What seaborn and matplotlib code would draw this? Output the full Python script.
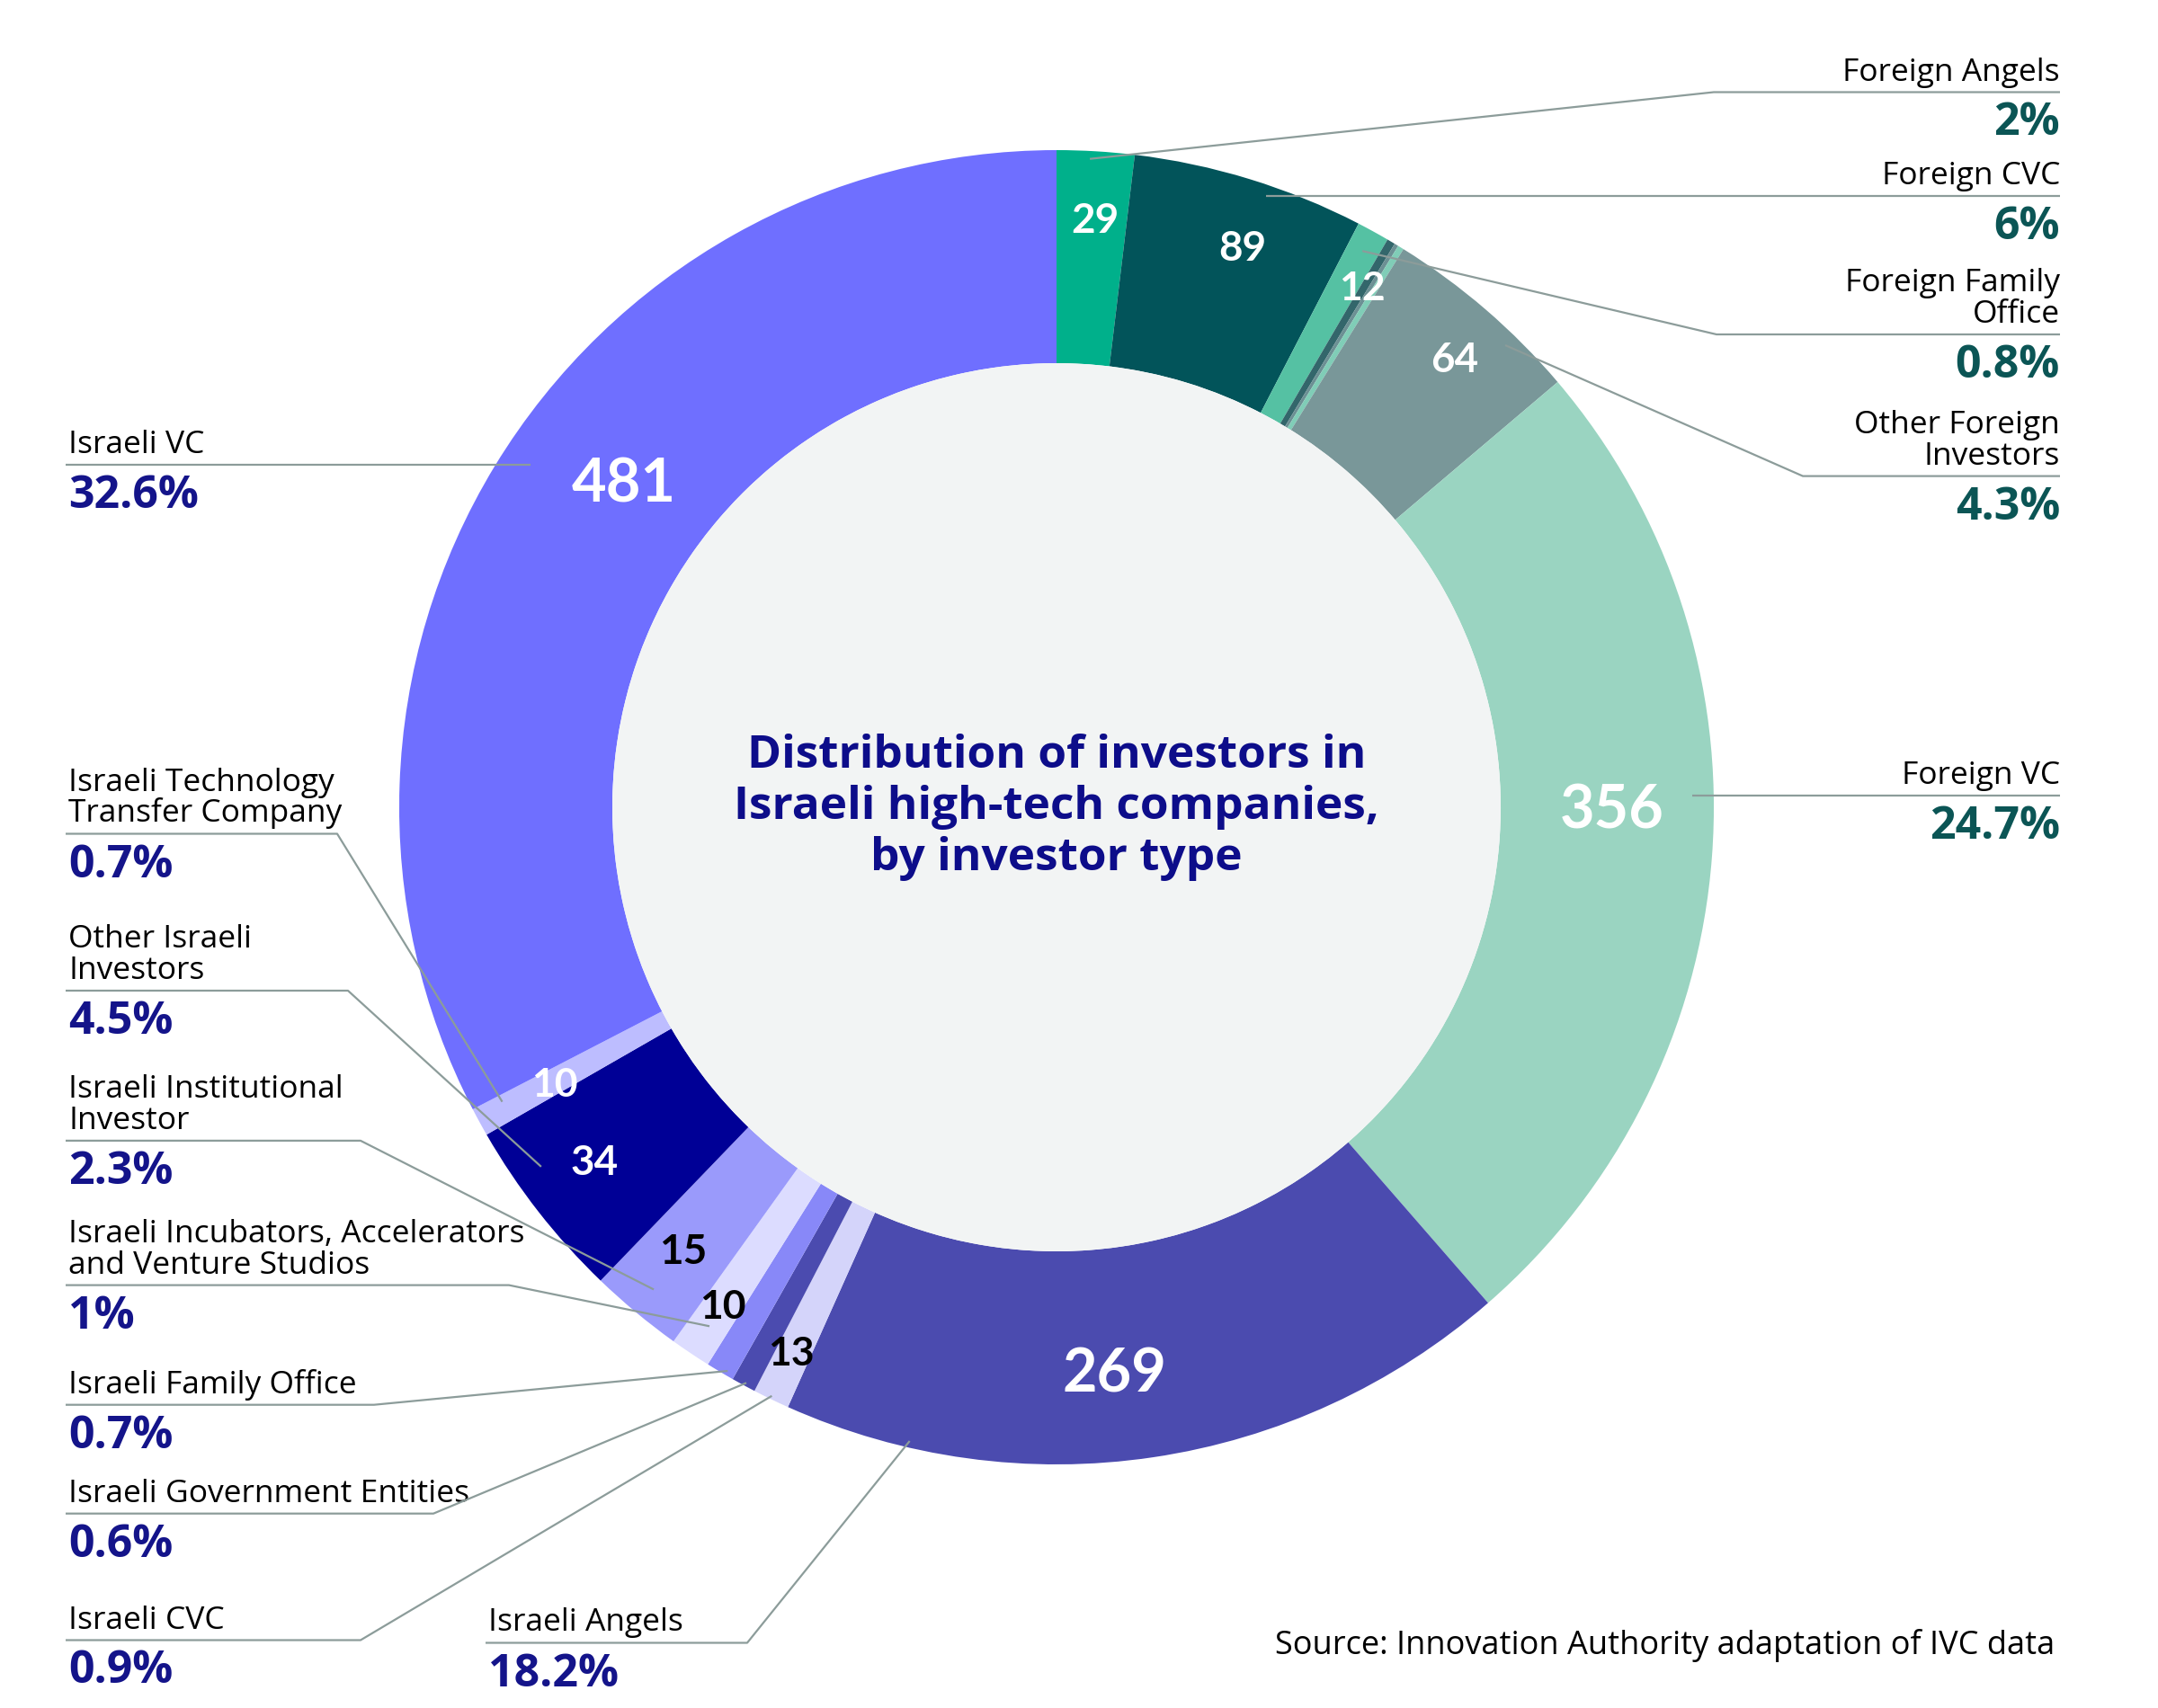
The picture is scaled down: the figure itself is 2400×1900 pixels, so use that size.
import numpy as np
import matplotlib.pyplot as plt
from matplotlib.patches import Circle
import seaborn as sns

#------------------------------------------------
# slices, clockwise from 12 o'clock (share in % of all investors)
categories=['Foreign Angels','Foreign CVC','Foreign Family Office','Foreign other a','Foreign other b','Foreign other c',
            'Other Foreign Investors','Foreign VC','Israeli Angels','Israeli CVC','Israeli Government Entities',
            'Israeli Family Office','Israeli Incubators, Accelerators and Venture Studios','Israeli Institutional Investor',
            'Other Israeli Investors','Israeli Technology Transfer Company','Israeli VC']
share=[1.9,5.7,0.8,0.2,0.1,0.15,4.95,24.8,18.1,0.9,0.6,0.7,1.0,2.3,4.5,0.7,32.6]
pct_text=['2%','6%','0.8%','','','','4.3%','24.7%','18.2%','0.9%','0.6%','0.7%','1%','2.3%','4.5%','0.7%','32.6%']
count_text=['29','89','12','','','','64','356','269','13','','','10','15','34','10','481']
name_text=['Foreign Angels','Foreign CVC','Foreign Family\nOffice','','','','Other Foreign\nInvestors','Foreign VC',
           'Israeli Angels','Israeli CVC','Israeli Government Entities','Israeli Family Office',
           'Israeli Incubators, Accelerators\nand Venture Studios','Israeli Institutional\nInvestor',
           'Other Israeli\nInvestors','Israeli Technology\nTransfer Company','Israeli VC']
title='Distribution of investors in\nIsraeli high-tech companies,\nby investor type'
source='Source: Innovation Authority adaptation of IVC data'

colors=['#00B08B','#02545A','#55C1A3','#33666B','#6C9094','#80CDB7','#799799','#9AD4C1',
        '#4B4BAF','#D4D4FA','#4B4BAF','#8888F8','#DCDCFF','#9A9AFB','#000096','#BDBDFF','#6F6FFF']

#------------------------------------------------
# layout (pixels of the 2400x1900 canvas)
cx, cy, R, r_in=1175, 898, 731, 494
c_line='#8C9C9A'
c_isr='#14148A'
c_for='#0B5555'
c_title='#0D0D8A'
f_txt=['Open Sans','DejaVu Sans']
f_num=['Lato','DejaVu Sans']

# number inside slice: idx -> (pos in slice, radius frac, size, color)
lab_in={0:(0.55,0.90,33,'white'), 1:(0.56,0.90,33,'white'), 2:(1.05,0.92,32,'white'), 6:(0.54,0.915,33,'white'),
        7:(0.45,0.845,48,'white'), 8:(0.54,0.86,48,'white'), 9:(0.58,0.92,32,'black'), 12:(0.52,0.91,32,'black'),
        13:(0.55,0.88,33,'black'), 14:(0.54,0.885,33,'white'), 15:(0.47,0.87,32,'white'), 16:(0.55,0.826,48,'white')}

# outer labels: idx -> (side, text x, underline y, knee x, anchor pos in slice, anchor radius frac)
lab_out={0:('r',2291,102.5,1906,0.43,0.988), 1:('r',2291,None,None,0.59,0.983),
         2:('r',2291,372,1909,0.5,0.966), 6:('r',2291,529.6,2005,0.69,0.98),
         7:('r',2291,None,None,0.44,0.968), 16:('l',76,None,None,0.515,0.955),
         15:('l',76,927.5,375,0.75,0.955), 14:('l',76,1102,387,0.69,0.956),
         13:('l',76,1268.9,401,0.51,0.956), 12:('l',76,1429.6,566,0.48,0.95),
         11:('l',76,1562.7,416,0.29,0.993), 10:('l',76,1683.7,482,0.44,0.995),
         9:('l',76,1824.5,401,0.52,0.995), 8:('l',543,1827.5,831,0.83,0.99)}

##########################################################
sns.set_theme(style='white')
plt.rcParams['font.family']=f_txt

tot=sum(share)
edges=np.concatenate([[0],np.cumsum(share)])/tot*360

def polar(i, t, rf):
    a=np.deg2rad(edges[i]+t*(edges[i+1]-edges[i]))
    return cx+rf*R*np.sin(a), cy-rf*R*np.cos(a)

fig=plt.figure(figsize=(24,19), dpi=100)
ax=fig.add_axes([0,0,1,1])

#donut
ax.pie(share, colors=colors, startangle=-90, counterclock=True, radius=R, center=(cx,cy),
       wedgeprops=dict(width=R-r_in, linewidth=0))
ax.add_patch(Circle((cx,cy), r_in, color='#F2F4F4', lw=0, zorder=3))
ax.set_xlim(0,2400)
ax.set_ylim(1900,0)
ax.axis('off')

#numbers inside
for i,(t,rf,fs,col) in lab_in.items():
    x,y=polar(i,t,rf)
    ax.text(x, y, count_text[i], ha='center', va='center_baseline', fontsize=fs, color=col,
            weight='bold', family=f_num, zorder=5)

#title
for k,line in enumerate(title.split('\n')):
    ax.text(cx, 836+57*k+18, line, ha='center', va='baseline', fontsize=37, weight='bold',
            color=c_title, zorder=5)

#outer labels with leader lines
for i,(side,tx,uy,kx,t,rf) in lab_out.items():
    axx,ayy=polar(i,t,rf)
    if uy is None:
        uy=ayy
        xs=[axx, tx+(0 if side=='r' else -3)]
        ys=[uy, uy]
    else:
        xs=[axx, kx, tx+(0 if side=='r' else -3)]
        ys=[ayy, uy, uy]
    ax.plot(xs, ys, color=c_line, lw=1.6, zorder=6, solid_capstyle='butt')
    ha='right' if side=='r' else 'left'
    lines=name_text[i].split('\n')
    n=len(lines)
    for k,line in enumerate(lines):
        ax.text(tx, uy-13-(n-1-k)*35, line, ha=ha, va='baseline', fontsize=25.5, color='black')
    pc=c_isr if categories[i].startswith('Israeli') or categories[i].startswith('Other Israeli') else c_for
    ax.text(tx, uy+48, pct_text[i], ha=ha, va='baseline', fontsize=36, weight='bold', color=pc)

#source
ax.text(2285, 1840, source, ha='right', va='baseline', fontsize=26, color='black')

fig.savefig('out.png', dpi=100, facecolor='white')
plt.close()
